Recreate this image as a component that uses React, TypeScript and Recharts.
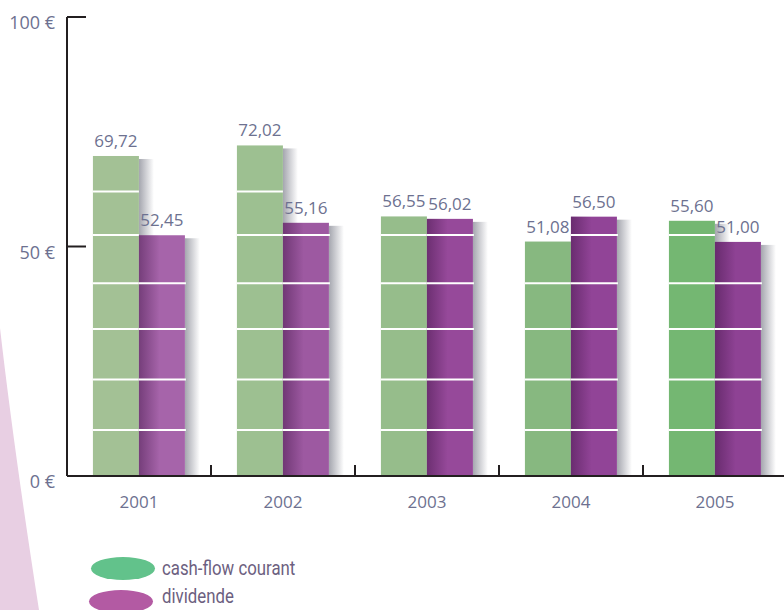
import { BarChart, Bar, XAxis, YAxis, Cell, LabelList } from "recharts";

// valeurs (en euros)
const years = ["2001", "2002", "2003", "2004", "2005"];
const cashFlow = [69.72, 72.02, 56.55, 51.08, 55.6];
const dividende = [52.45, 55.16, 56.02, 56.5, 51.0];
const yTicks = [0, 50, 100];
const seriesNames = ["cash-flow courant", "dividende"];

// lignes blanches décoratives dans les barres
const stripes = [10, 21, 32, 42, 52.5, 62];

const GREENS = ["#a3c195", "#9dc091", "#96bd8b", "#87b880", "#74b772"];
const PURPLES = ["#a664aa", "#9d59a1", "#96499a", "#914497", "#8e4294"];
const LABEL = "#6d7190";
const FONT = "'Open Sans', 'Noto Sans', sans-serif";

const data = years.map((y, i) => ({ year: y, cash: cashFlow[i], div: dividende[i] }));

const fmt = (v: any) => Number(v).toFixed(2).replace(".", ",");

function StripedBar(props: any) {
  const { x, y, width, height, fill, value, dark } = props;
  const v = Array.isArray(value) ? value[1] - value[0] : value;
  const perUnit = v ? height / v : 0;
  const bottom = y + height;
  return (
    <g>
      <rect x={x + width} y={y + 3} width={15} height={height - 3} fill="url(#shadow)" />
      <rect x={x} y={y} width={width} height={height} fill={fill} />
      {dark && <rect x={x} y={y} width={width * 0.45} height={height} fill="url(#edge)" />}
      {stripes
        .filter((s) => s < v - 1.5)
        .map((s) => (
          <line
            key={s}
            x1={x}
            x2={x + width + (dark ? 1 : 0)}
            y1={bottom - s * perUnit}
            y2={bottom - s * perUnit}
            stroke="#fff"
            strokeWidth={2}
          />
        ))}
    </g>
  );
}

function YTick(props: any) {
  const { x, y, payload } = props;
  return (
    <g>
      {payload.value > 0 && <line x1={x + 12} x2={x + 31} y1={y} y2={y} stroke="#231f20" strokeWidth={2} />}
      <text x={x} y={y + 12} textAnchor="end" fill={LABEL} fontSize={18} fontFamily={FONT}>
        {payload.value} €
      </text>
    </g>
  );
}

function XTick(props: any) {
  const { x, y, payload, index } = props;
  const half = 720 / years.length / 2;
  return (
    <g>
      {index < years.length - 1 && (
        <line x1={x + half} x2={x + half} y1={y} y2={y - 11} stroke="#231f20" strokeWidth={2} />
      )}
      <text x={x} y={y + 32} textAnchor="middle" fill={LABEL} fontSize={17} fontFamily={FONT}>
        {payload.value}
      </text>
    </g>
  );
}

export default function App() {
  return (
    <div style={{ position: "absolute", left: 0, top: 0, width: 784, height: 610, overflow: "hidden", background: "#fff" }}>
      <svg width={60} height={610} style={{ position: "absolute", left: 0, top: 0 }}>
        <path d="M0,328 Q14,450 39,610 L0,610 Z" fill="#e8cfe3" />
      </svg>
      <div style={{ position: "absolute", left: 0, top: 0 }}>
        <BarChart
          width={800}
          height={610}
          data={data}
          margin={{ top: 17, right: 13, left: 0, bottom: 94 }}
          barCategoryGap="18%"
          barGap={0}
        >
          <defs>
            <linearGradient id="shadow" x1="0" x2="1" y1="0" y2="0">
              <stop offset="0%" stopColor="#7e808c" stopOpacity={0.7} />
              <stop offset="100%" stopColor="#7e808c" stopOpacity={0} />
            </linearGradient>
            <linearGradient id="edge" x1="0" x2="1" y1="0" y2="0">
              <stop offset="0%" stopColor="#3a1040" stopOpacity={0.45} />
              <stop offset="100%" stopColor="#3a1040" stopOpacity={0} />
            </linearGradient>
          </defs>
          <XAxis
            dataKey="year"
            height={40}
            tickSize={0}
            tickMargin={0}
            tick={<XTick />}
            axisLine={{ stroke: "#231f20", strokeWidth: 2 }}
            tickLine={false}
          />
          <YAxis
            width={67}
            domain={[0, 100]}
            ticks={yTicks}
            tickSize={0}
            tickMargin={12}
            tick={<YTick />}
            axisLine={{ stroke: "#231f20", strokeWidth: 2 }}
            tickLine={false}
          />
          <Bar dataKey="cash" name={seriesNames[0]} isAnimationActive={false} shape={<StripedBar />}>
            {data.map((d, i) => (
              <Cell key={d.year} fill={GREENS[i]} />
            ))}
            <LabelList dataKey="cash" position="top" offset={9} formatter={fmt} fill={LABEL} fontSize={17} fontFamily={FONT} />
          </Bar>
          <Bar dataKey="div" name={seriesNames[1]} isAnimationActive={false} shape={<StripedBar dark />}>
            {data.map((d, i) => (
              <Cell key={d.year} fill={PURPLES[i]} />
            ))}
            <LabelList dataKey="div" position="top" offset={9} formatter={fmt} fill={LABEL} fontSize={17} fontFamily={FONT} />
          </Bar>
        </BarChart>
      </div>
      <div style={{ position: "absolute", left: 91, top: 557, width: 64, height: 23, borderRadius: "50%", background: "#62c28b" }} />
      <div style={{ position: "absolute", left: 89, top: 590, width: 64, height: 23, borderRadius: "50%", background: "#b35aa3" }} />
      <div
        style={{
          position: "absolute",
          left: 162,
          top: 555,
          fontFamily: "'Roboto', sans-serif",
          fontSize: 20,
          color: "#6c6080",
          lineHeight: "26px",
          transform: "scaleX(0.84)",
          transformOrigin: "left top",
          whiteSpace: "nowrap",
        }}
      >
        <div>{seriesNames[0]}</div>
        <div style={{ marginTop: 2 }}>{seriesNames[1]}</div>
      </div>
    </div>
  );
}
